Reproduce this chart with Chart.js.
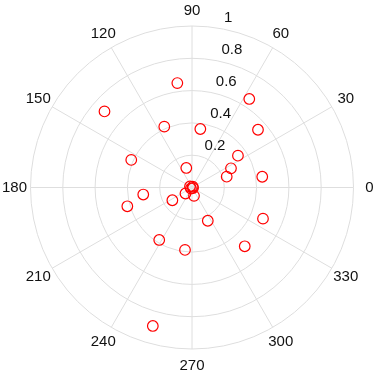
<!DOCTYPE html>
<html>
<head>
<meta charset="utf-8">
<script src="https://cdn.jsdelivr.net/npm/chart.js@4"></script>
<style>
  html, body { margin: 0; padding: 0; background: #fff; }
  #wrap { width: 374px; height: 379px; }
</style>
</head>
<body>
<div id="wrap"><canvas id="polar" width="374" height="379"></canvas></div>
<script>
// angles in degrees, radius 0..1
const thetaDeg = [98, 139, 114.5, 155.6, 106.3, 57.1, 41.2, 81.9, 34.7, 26.2, 17.3, 8.7,
  188.2, 213, 196.2, 238, 263.6, 254.2, 222.7, 283.5, 295.4, 336.3, 311.9,
  153, 49, 225, 333];
const rho = [0.653, 0.718, 0.414, 0.413, 0.126, 0.653, 0.543, 0.366, 0.346, 0.269, 0.225, 0.44,
  0.305, 0.145, 0.417, 0.383, 0.389, 0.891, 0.055, 0.053, 0.228, 0.48, 0.489,
  0.014, 0.007, 0.009, 0.007];
const rTicks = [0.2, 0.4, 0.6, 0.8, 1];
const rTickLabels = ["0.2", "0.4", "0.6", "0.8", "1"];
const angleTicks = [0, 30, 60, 90, 120, 150, 180, 210, 240, 270, 300, 330];

const pts = thetaDeg.map((t, i) => {
  const a = t * Math.PI / 180;
  return { x: rho[i] * Math.cos(a), y: rho[i] * Math.sin(a) };
});

const FONT = '15px "Liberation Sans", Arial, sans-serif';

const polarGrid = {
  id: "polarGrid",
  beforeDatasetsDraw(chart) {
    const ctx = chart.ctx;
    const xs = chart.scales.x, ys = chart.scales.y;
    const cx = xs.getPixelForValue(0), cy = ys.getPixelForValue(0);
    const R = xs.getPixelForValue(1) - cx;
    ctx.save();
    ctx.strokeStyle = "#dedede";
    ctx.lineWidth = 1;
    rTicks.forEach((r) => {
      ctx.beginPath();
      ctx.arc(cx, cy, r * R, 0, Math.PI * 2);
      ctx.stroke();
    });
    angleTicks.forEach((t) => {
      const a = t * Math.PI / 180;
      ctx.beginPath();
      ctx.moveTo(cx, cy);
      ctx.lineTo(cx + R * Math.cos(a), cy - R * Math.sin(a));
      ctx.stroke();
    });
    ctx.fillStyle = "#111";
    ctx.font = FONT;
    ctx.textAlign = "center";
    ctx.textBaseline = "middle";
    angleTicks.forEach((t) => {
      const a = t * Math.PI / 180;
      ctx.fillText(String(t), cx + (R + 16) * Math.cos(a), cy - (R + 16) * Math.sin(a) + 0.5);
    });
    // radial labels along 80 deg
    ctx.textAlign = "left";
    ctx.textBaseline = "alphabetic";
    const ra = 80 * Math.PI / 180;
    rTicks.forEach((r, i) => {
      const px = cx + r * R * Math.cos(ra), py = cy - r * R * Math.sin(ra);
      ctx.fillText(rTickLabels[i], px + (r === 1 ? 4 : 7), py - 6);
    });
    ctx.restore();
  }
};

new Chart("polar", {
  type: "scatter",
  data: {
    datasets: [{
      data: pts,
      borderColor: "#ff0000",
      backgroundColor: "rgba(0,0,0,0)",
      borderWidth: 1.2,
      pointRadius: 5.3,
      pointHoverRadius: 5.3,
      clip: false
    }]
  },
  options: {
    responsive: false,
    animation: false,
    layout: { padding: { left: 30.5, right: 20.5, top: 26, bottom: 30 } },
    scales: {
      x: { type: "linear", min: -1, max: 1, display: false },
      y: { type: "linear", min: -1, max: 1, display: false }
    },
    plugins: { legend: { display: false }, tooltip: { enabled: false } }
  },
  plugins: [polarGrid]
});
</script>
</body>
</html>
